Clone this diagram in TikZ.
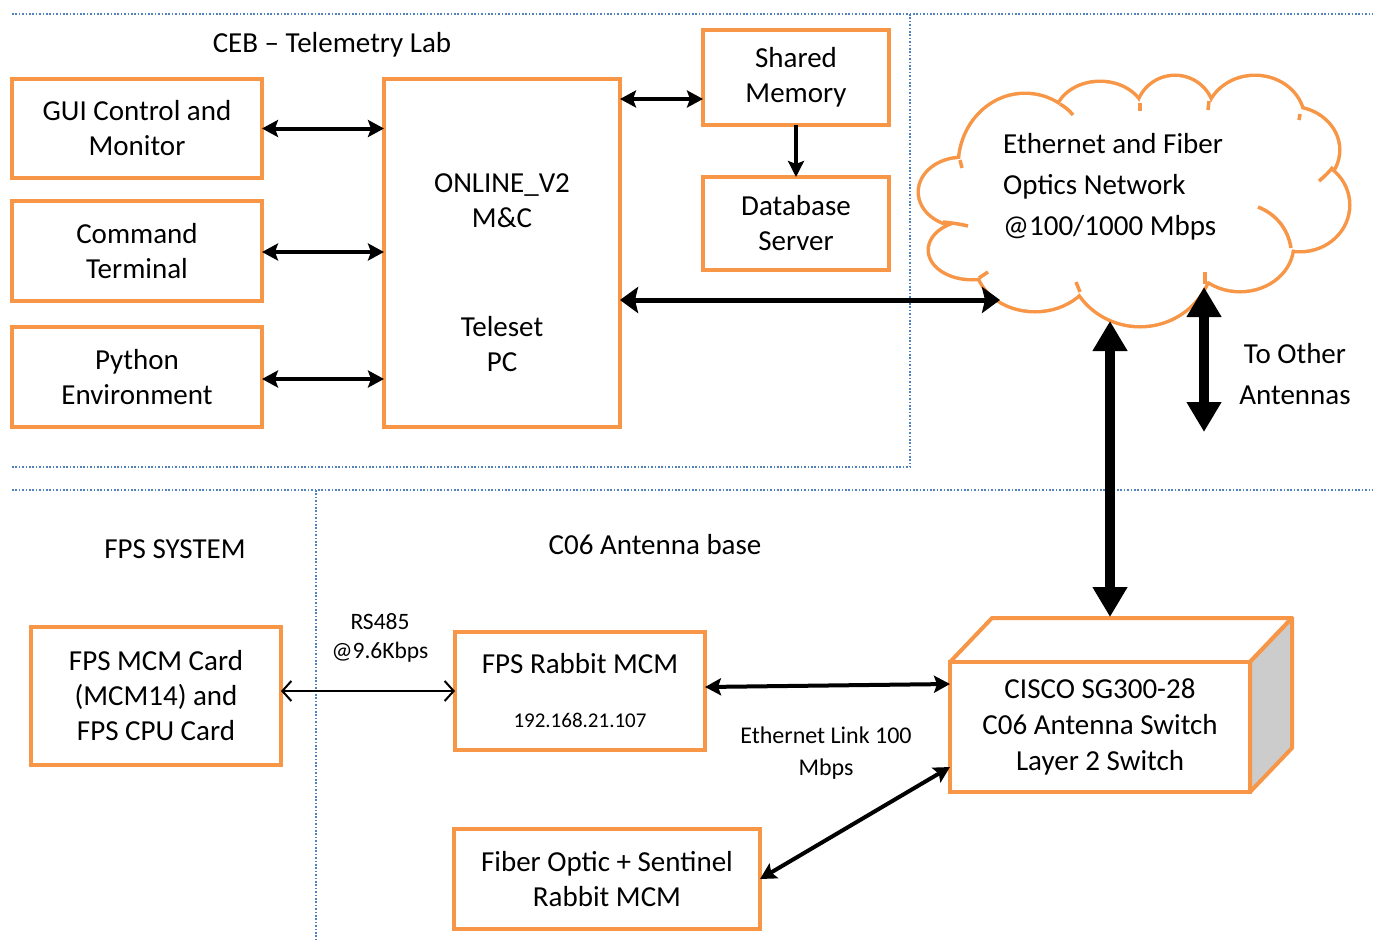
\documentclass[tikz,border=0pt]{standalone}
\usepackage{fontspec}
\setmainfont{Carlito}
\usetikzlibrary{arrows.meta}
\definecolor{orng}{HTML}{F79646}
\definecolor{dotblue}{HTML}{4F81BD}
\definecolor{sidegray}{HTML}{CCCCCC}
\newcommand\mainfnt{\fontsize{29}{35}\selectfont}
\newcommand\cloudfnt{\fontsize{29}{41}\selectfont}
\newcommand\rsfnt{\fontsize{23.5}{29}\selectfont}
\newcommand\ethfnt{\fontsize{24}{32}\selectfont}
\newcommand\ipfnt{\fontsize{21}{25}\selectfont}
\begin{document}
\begin{tikzpicture}[x=1pt,y=-1pt,
  box/.style={draw=orng,line width=4pt,fill=white,inner sep=0pt,outer sep=0pt,align=center,font=\mainfnt},
  face/.style={draw=orng,line width=4pt,line join=round},
  txt/.style={inner sep=0pt,align=center,font=\mainfnt},
  dotline/.style={draw=dotblue,line width=1.6pt,dash pattern=on 1.6pt off 1.8pt},
  tick/.style={draw=orng,line width=3.5pt},
  arr/.style={line width=4pt,{Stealth[length=16pt,width=17pt,inset=3pt]}-{Stealth[length=16pt,width=17pt,inset=3pt]}},
  onearr/.style={line width=4pt,-{Stealth[length=16pt,width=16pt,inset=3pt]}},
  bigarr/.style={line width=5pt,{Stealth[length=18pt,width=26pt,inset=3pt]}-{Stealth[length=18pt,width=26pt,inset=3pt]}},
  hugearr/.style={line width=10pt,{Triangle[length=30pt,width=33pt]}-{Triangle[length=30pt,width=33pt]}},
  thinarr/.style={line width=2pt,{Straight Barb[length=9pt,width=20pt,line width=2pt]}-{Straight Barb[length=9pt,width=20pt,line width=2pt]}}
]
\useasboundingbox (0,0) rectangle (1381,943);
% region separators
\draw[dotline] (12,14) -- (1373,14);
\draw[dotline] (910,14) -- (910,467);
\draw[dotline] (12,467) -- (910,467);
\draw[dotline] (12,490) -- (1373,490);
\draw[dotline] (316,490) -- (316,940);
% headings
\node[txt] (hceb) at (332,45) {CEB – Telemetry Lab};
\node[txt] (hfps) at (175,549) {FPS SYSTEM};
\node[txt] (hc06) at (655,545) {C06 Antenna base};
% top boxes
\node[box,minimum width=250pt,minimum height=99pt] (gui) at (137,128.5) {GUI Control and\\Monitor};
\node[box,minimum width=250pt,minimum height=100pt] (cmd) at (137,251) {Command\\Terminal};
\node[box,minimum width=250pt,minimum height=100pt] (py) at (137,377) {Python\\Environment};
\node[box,minimum width=236pt,minimum height=348pt] (online) at (502,253) {};
\node[txt] (onlinetxt) at (502,273) {ONLINE\_V2\\M\&C\\[74pt]Teleset\\PC};
\node[box,minimum width=186pt,minimum height=95pt] (shm) at (796,77.5) {Shared\\Memory};
\node[box,minimum width=186pt,minimum height=93pt] (db) at (796,223.5) {Database\\Server};
% cloud (union of lobes)
\def\lobes{962/192/42/33, 972/250/42/28, 1035/263/58/47, 1140/255/72/70, 1240/245/52/45, 1300/205/48/45, 1290/150/48/42, 1255/120/48/43, 1175/115/38/38, 1100/118/44/35, 1025/165/65/70, 1135/200/170/90}
\foreach \cx/\cy/\rx/\ry in \lobes {\draw[orng,line width=7pt] (\cx,\cy) ellipse [x radius=\rx pt, y radius=\ry pt];}
\foreach \cx/\cy/\rx/\ry in \lobes {\fill[white] (\cx,\cy) ellipse [x radius=\rx pt, y radius=\ry pt];}
\draw[tick] (943,222) .. controls (952,223) and (960,224) .. (968,226);
\draw[tick] (1060,104) .. controls (1065,107) and (1069,110) .. (1073,115);
\draw[tick] (1140,103) -- (1140,111);
\draw[tick] (1209,101) -- (1208,110);
\draw[tick] (1300,114) -- (1299,120);
\draw[tick] (1333,167) .. controls (1329,172) and (1325,176) .. (1319,181);
\draw[tick] (1258,207) .. controls (1276,214) and (1288,229) .. (1291,248);
\draw[tick] (1205,284) -- (1205,272);
\draw[tick] (1080,292) -- (1076,282);
\draw[tick] (979,278) -- (988,272);
\draw[tick] (960,160) -- (962,168);
\node[txt,anchor=west,align=left,font=\cloudfnt] (cloudtxt) at (1003,186.5) {Ethernet and Fiber\\Optics Network\\@100/1000 Mbps};
\node[txt,font=\cloudfnt] (other) at (1295,374.5) {To Other\\Antennas};
% bottom boxes
\node[box,minimum width=250pt,minimum height=138pt] (fpsmcm) at (156,696) {FPS MCM Card\\(MCM14) and\\FPS CPU Card};
\node[box,minimum width=250pt,minimum height=118pt] (rabbit) at (580,691) {};
\node[txt] (rabbittxt) at (580,664) {FPS Rabbit MCM};
\node[txt,font=\ipfnt] (rabbitip) at (580,720) {192.168.21.107};
\node[box,minimum width=306pt,minimum height=100pt] (fiber) at (607,879) {Fiber Optic + Sentinel\\Rabbit MCM};
% cisco cube
\draw[face,fill=white] (950,662) -- ++(42,-44) -- ++(300,0) -- (1250,662) -- cycle;
\draw[face,fill=sidegray] (1250,662) -- ++(42,-44) -- ++(0,130) -- (1250,792) -- cycle;
\node[box,minimum width=300pt,minimum height=130pt,font=\fontsize{29}{36}\selectfont] (cisco) at (1100,727) {CISCO SG300-28\\C06 Antenna Switch\\Layer 2 Switch};
% labels
\node[txt,font=\rsfnt] (rslbl) at (380,637.5) {RS485\\@9.6Kbps};
\node[txt,font=\ethfnt] (ethlbl) at (826,753) {Ethernet Link 100\\Mbps};
% coordinates
\coordinate (smw) at (703,99);
\coordinate (cmde) at ([yshift=-1pt]cmd.east);
\coordinate (pye) at ([yshift=-2pt]py.east);
\coordinate (cw) at (1000,300);
\coordinate (cb) at (1110,321);
\coordinate (ct) at (1110,617);
\coordinate (cb2) at (1204,287);
\coordinate (oa) at (1204,432);
\coordinate (rabe) at ([yshift=4pt]rabbit.east);
\coordinate (ciscoa) at (950,684);
\coordinate (ciscob) at (950,767);
% connectors
\draw[arr] (gui.east) -- (online.west |- gui.east);
\draw[arr] (cmde) -- (online.west |- cmde);
\draw[arr] (pye) -- (online.west |- pye);
\draw[arr] (online.east |- smw) -- (smw);
\draw[onearr] (shm.south) -- (db.north);
\draw[bigarr] (online.east |- cw) -- (cw);
\draw[hugearr] (cb) -- (ct);
\draw[hugearr] (cb2) -- (oa);
\draw[thinarr] (fpsmcm.east |- rabbit.west) -- (rabbit.west);
\draw[arr] (rabe) -- (ciscoa);
\draw[arr] (fiber.east) -- (ciscob);
\end{tikzpicture}
\end{document}
